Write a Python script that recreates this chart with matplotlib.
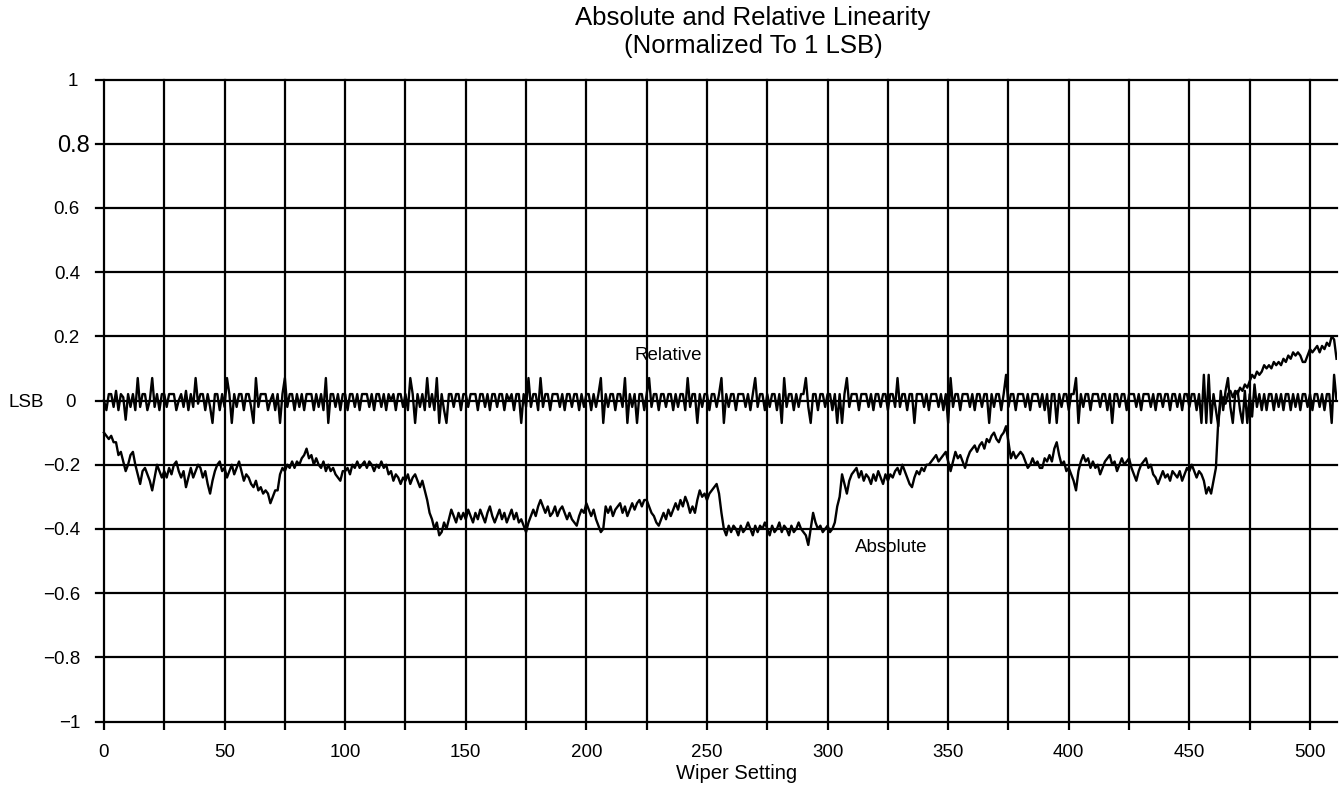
import matplotlib
matplotlib.use("Agg")
import matplotlib.pyplot as plt
import numpy as np

plt.rcParams['font.family'] = ['Liberation Sans', 'DejaVu Sans']

# ---------------- data (hundredths of an LSB) ----------------
wiper = list(range(512))

absolute_c = [
    -10,-11,-12,-11,-13,-13,-17,-16,-19,-22,-20,-17,-16,-20,-23,-26,-22,-21,-23,-25,-28,-24,-20,-22,-24,
    -22,-24,-21,-23,-20,-19,-22,-24,-22,-27,-24,-21,-24,-22,-20,-21,-24,-22,-26,-29,-25,-22,-20,-19,-22,
    -21,-24,-22,-20,-23,-21,-19,-22,-25,-23,-24,-26,-27,-25,-28,-27,-29,-28,-29,-32,-30,-28,-28,-23,-21,
    -22,-20,-21,-19,-21,-19,-20,-18,-17,-15,-18,-17,-20,-18,-20,-21,-19,-22,-20,-22,-21,-23,-24,-25,-22,
    -22,-21,-23,-20,-21,-19,-21,-20,-19,-21,-19,-20,-22,-20,-21,-19,-21,-20,-23,-22,-25,-23,-24,-26,-24,
    -25,-23,-26,-24,-23,-25,-27,-25,-28,-31,-35,-37,-40,-38,-42,-41,-38,-40,-37,-34,-36,-38,-35,-37,-35,
    -37,-34,-36,-38,-35,-37,-34,-36,-38,-35,-33,-36,-38,-36,-34,-37,-35,-38,-36,-34,-37,-35,-38,-37,-39,
    -41,-38,-36,-34,-36,-33,-31,-33,-35,-33,-36,-35,-33,-36,-34,-33,-35,-37,-35,-37,-38,-39,-36,-34,-35,
    -32,-34,-36,-34,-37,-39,-41,-40,-33,-35,-33,-36,-34,-33,-32,-35,-33,-36,-34,-32,-34,-32,-31,-33,-31,
    -31,-33,-35,-36,-38,-39,-37,-35,-37,-34,-36,-34,-32,-34,-31,-33,-30,-32,-35,-33,-35,-31,-28,-30,-29,
    -31,-29,-28,-27,-26,-29,-35,-40,-42,-39,-41,-39,-40,-42,-39,-41,-40,-38,-40,-42,-39,-41,-39,-40,-38,
    -40,-42,-39,-41,-40,-38,-41,-39,-40,-42,-39,-41,-40,-38,-40,-41,-42,-45,-40,-35,-38,-40,-39,-41,-40,
    -39,-41,-40,-38,-33,-30,-23,-26,-29,-25,-23,-22,-21,-24,-22,-25,-23,-24,-26,-23,-25,-22,-24,-26,-23,
    -25,-23,-24,-22,-21,-23,-20,-22,-24,-26,-27,-24,-22,-23,-21,-22,-20,-20,-19,-18,-17,-19,-18,-17,-16,
    -19,-22,-19,-16,-18,-17,-19,-21,-18,-16,-15,-14,-16,-14,-13,-15,-12,-13,-11,-10,-12,-13,-11,-10,-8,
    -13,-18,-16,-18,-17,-16,-17,-19,-21,-20,-18,-20,-19,-21,-21,-18,-19,-17,-19,-15,-13,-17,-20,-19,-22,
    -21,-23,-25,-28,-22,-19,-17,-19,-18,-21,-19,-21,-20,-23,-21,-19,-18,-17,-20,-19,-22,-20,-18,-20,-19,
    -18,-21,-23,-25,-22,-20,-19,-18,-21,-20,-23,-24,-26,-24,-22,-24,-23,-25,-22,-23,-24,-22,-25,-23,-21,
    -22,-20,-22,-24,-22,-23,-25,-29,-27,-29,-25,-21,-6,0,1,-1,2,3,1,3,2,4,3,5,4,
    6,8,7,9,8,9,11,10,11,10,12,11,12,11,13,12,14,13,15,14,15,14,12,12,14,
    16,15,16,17,15,17,16,18,17,20,19,13,
]

relative_c = [
    0,-3,2,2,-2,3,-3,2,1,-6,2,-2,2,-3,7,-2,2,2,-3,0,7,-2,2,-3,2,
    2,-2,2,2,2,-3,0,2,-2,3,-3,2,-2,7,-1,2,2,-3,2,-2,-7,2,2,-3,2,
    -2,7,2,-7,2,-2,2,2,-3,2,2,-2,-7,7,-2,2,2,2,-3,0,2,-3,2,-7,2,
    7,-2,2,2,-3,2,-2,2,-3,2,2,2,-3,2,-2,2,-3,7,-7,2,2,-2,2,-3,2,
    2,-3,2,2,-2,2,-3,2,2,2,-2,2,-3,2,2,-2,2,-3,2,0,2,-3,2,2,-2,
    2,-3,7,2,-7,2,-2,2,-3,7,-2,2,-3,7,-7,2,-3,-7,2,2,-2,2,2,-3,2,
    2,-2,2,2,2,-3,2,2,-2,2,-3,2,2,-2,2,2,-3,2,0,2,-3,2,2,-7,2,
    -2,7,-2,2,2,-3,7,-2,2,2,-3,2,2,2,-2,2,-3,2,2,-2,2,2,-3,2,-2,
    2,2,-3,2,-2,2,7,-7,2,-2,2,2,-3,2,2,-2,7,-7,2,-2,2,-7,2,2,-3,
    2,7,-2,2,2,-3,2,2,-2,2,2,-3,2,-2,2,2,-3,7,-2,2,2,-7,2,-2,2,
    2,-3,2,2,-2,2,7,-7,2,-2,2,2,-3,2,2,2,-2,2,-3,2,7,-2,2,2,-3,
    2,-2,2,2,-3,2,-7,7,-2,2,2,-3,2,-2,2,2,7,-2,-7,2,2,-3,2,2,-2,
    2,2,-3,2,-7,2,-7,2,7,-2,2,2,2,-3,2,2,2,-2,2,-3,2,2,-2,2,2,
    -3,2,2,-2,7,-2,2,2,-3,2,2,-7,2,2,2,-2,2,-3,2,2,2,-2,2,-3,2,
    -7,7,-2,2,2,-3,2,2,2,-2,2,-3,2,2,-2,2,2,-7,2,-2,2,2,-3,2,8,
    -2,2,2,-3,2,2,2,-2,2,-3,2,2,2,-2,2,-3,2,-7,2,2,-7,2,-2,2,2,
    -3,2,2,7,-7,2,-2,2,2,-3,2,2,2,-2,2,2,-3,2,-7,2,2,-2,2,2,-3,
    2,2,2,-2,2,-3,2,2,2,-2,2,-3,2,2,-2,2,2,-3,2,2,-2,2,-3,2,2,
    -2,2,2,-3,2,-7,8,-7,8,-7,2,-3,-8,3,-3,3,7,-2,-7,2,3,-3,-7,3,-7,
    2,-5,5,-2,2,-3,2,-3,2,2,-3,2,-2,2,-3,2,2,-3,2,-2,2,-3,2,2,-2,
    2,-3,2,2,-2,2,-3,2,2,-7,8,0,
]

absolute = np.array(absolute_c) / 100.0
relative = np.array(relative_c) / 100.0

y_ticks = [1, 0.8, 0.6, 0.4, 0.2, 0, -0.2, -0.4, -0.6, -0.8, -1]
y_labels = ['1', '0.8', '0.6', '0.4', '0.2', '0', '\u22120.2', '\u22120.4', '\u22120.6', '\u22120.8', '\u22121']
x_grid = list(range(0, 501, 25))
x_labels = list(range(0, 501, 50))

title1 = 'Absolute and Relative Linearity'
title2 = '(Normalized To 1 LSB)'
x_title = 'Wiper Setting'

# ---------------- figure ----------------
W, H = 1341, 795
fig = plt.figure(figsize=(W / 100, H / 100), dpi=100)
fig.patch.set_facecolor('white')

left_px, right_px = 96, 1337
top_px, bot_px = 79.5, 721.5
ax = fig.add_axes([left_px / W, 1 - bot_px / H, (right_px - left_px) / W, (bot_px - top_px) / H])
ax.set_xlim(-3.3, 511.2)
ax.set_ylim(-1, 1)
for s in ax.spines.values():
    s.set_visible(False)

# grid
for v in y_ticks:
    ax.axhline(v, color='black', lw=1.6, zorder=1, clip_on=False)
for xv in x_grid:
    ax.axvline(xv, color='black', lw=1.6, zorder=1, clip_on=False)

ax.set_xticks(x_grid)
ax.set_xticklabels([''] * len(x_grid))
ax.tick_params(axis='x', direction='out', length=5.5, width=1.6, color='black')
ax.set_yticks([])

# data
ax.plot(wiper, relative, color='black', lw=1.7, zorder=3)
ax.plot(wiper, absolute, color='black', lw=1.7, zorder=3)

# x tick labels
for xv in x_labels:
    ax.annotate(str(xv), xy=(xv, 0), xycoords=('data', 'axes fraction'),
                xytext=(0, -(757 - bot_px) * 0.72), textcoords='offset points',
                ha='center', va='baseline', fontsize=13.5)

# y tick labels
for v, lab in zip(y_ticks, y_labels):
    if lab == '0.8':
        fs, off = 17, (96 - 90) * 0.72
    elif lab == '0':
        fs, off = 13.5, (96 - 76) * 0.72
    elif lab == '1':
        fs, off = 13.5, (96 - 78) * 0.72
    else:
        fs, off = 13.5, (96 - 80) * 0.72
    ax.annotate(lab, xy=(0, v), xycoords=('axes fraction', 'data'),
                xytext=(-off, 0), textcoords='offset points',
                ha='right', va='center_baseline', fontsize=fs)
ax.annotate('LSB', xy=(0, 0), xycoords=('axes fraction', 'data'),
            xytext=(-(96 - 8) * 0.72, 0), textcoords='offset points',
            ha='left', va='center_baseline', fontsize=13.5)

# series labels
ax.text(220, 0.125, 'Relative', ha='left', va='baseline', fontsize=13.5, zorder=4)
ax.text(311.5, -0.473, 'Absolute', ha='left', va='baseline', fontsize=13.5, zorder=4)

# titles
fig.text(753 / W, 1 - 25 / H, title1, ha='center', va='baseline', fontsize=18.5)
fig.text(753 / W, 1 - 53 / H, title2, ha='center', va='baseline', fontsize=18.5)
fig.text(737 / W, 1 - 779 / H, x_title, ha='center', va='baseline', fontsize=14.5)

fig.savefig('out.png', dpi=100, facecolor='white')
